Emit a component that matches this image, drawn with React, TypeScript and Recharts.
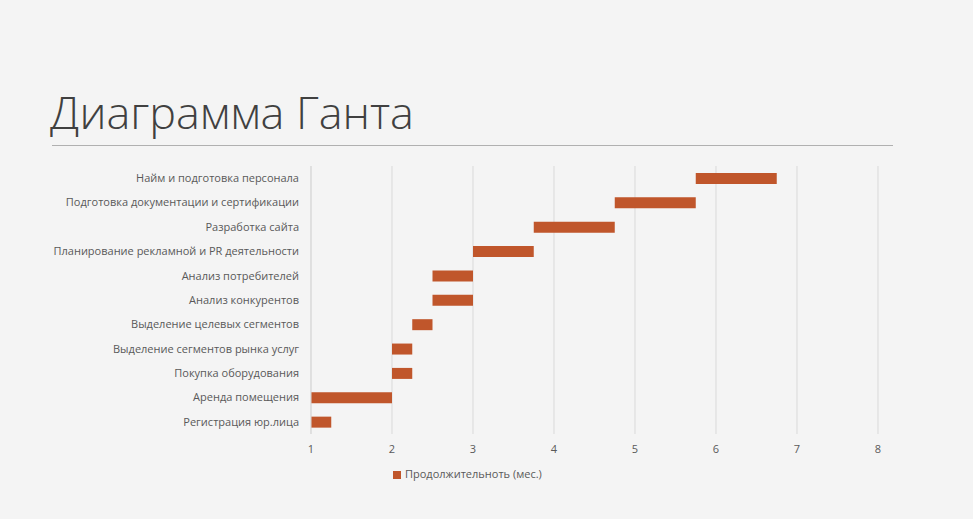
import React from "react";
import { BarChart, Bar, XAxis, YAxis, CartesianGrid, Legend } from "recharts";

const tasks = [
  "Найм и подготовка персонала",
  "Подготовка документации и сертификации",
  "Разработка сайта",
  "Планирование рекламной и PR деятельности",
  "Анализ потребителей",
  "Анализ конкурентов",
  "Выделение целевых сегментов",
  "Выделение сегментов рынка услуг",
  "Покупка оборудования",
  "Аренда помещения",
  "Регистрация юр.лица",
];
const starts = [5.75, 4.75, 3.75, 3, 2.5, 2.5, 2.25, 2, 2, 1, 1];
const durations = [1, 1, 1, 0.75, 0.5, 0.5, 0.25, 0.25, 0.25, 1, 0.25];
const xTicks = [1, 2, 3, 4, 5, 6, 7, 8];

const data = tasks.map((t, i) => ({ task: t, start: starts[i], dur: durations[i] }));

const FONT = "'Open Sans', 'Noto Sans', sans-serif";

export default function App() {
  return (
    <div
      style={{
        position: "absolute",
        left: 0,
        top: 0,
        width: 973,
        height: 519,
        background: "#f4f4f4",
        fontFamily: FONT,
        overflow: "hidden",
      }}
    >
      <div
        style={{
          position: "absolute",
          left: 50,
          top: 82,
          fontSize: 45,
          fontWeight: 300,
          color: "#404040",
          lineHeight: "60px",
          whiteSpace: "nowrap",
        }}
      >
        Диаграмма Ганта
      </div>
      <div
        style={{
          position: "absolute",
          left: 52,
          top: 145,
          width: 841,
          height: 1,
          background: "#b0b0b0",
        }}
      />
      <div style={{ position: "absolute", left: 0, top: 0 }}>
        <BarChart
          width={973}
          height={519}
          data={data}
          layout="vertical"
          margin={{ top: 166, right: 95, bottom: 40, left: 0 }}
          barSize={11}
        >
          <CartesianGrid horizontal={false} stroke="#d9d9d9" />
          <XAxis
            type="number"
            domain={[1, 8]}
            allowDataOverflow={true}
            ticks={xTicks}
            axisLine={false}
            tickLine={false}
            tick={{ fill: "#595959", fontSize: 11, fontFamily: FONT }}
            tickMargin={5}
          />
          <YAxis
            type="category"
            dataKey="task"
            width={311}
            axisLine={{ stroke: "#d9d9d9" }}
            tickLine={false}
            tickMargin={6}
            interval={0}
            tick={{ fill: "#595959", fontSize: 11, fontFamily: FONT }}
          />
          <Legend
            verticalAlign="bottom"
            align="left"
            iconType="square"
            iconSize={8}
            wrapperStyle={{
              fontSize: 11,
              color: "#595959",
              fontFamily: FONT,
              left: 393,
              top: 466,
              width: "auto",
            }}
            formatter={(v) => <span style={{ color: "#595959" }}>{v}</span>}
          />
          <Bar
            dataKey="start"
            stackId="a"
            fill="transparent"
            legendType="none"
            isAnimationActive={false}
          />
          <Bar
            dataKey="dur"
            stackId="a"
            name="Продолжительноть (мес.)"
            fill="#c0562b"
            isAnimationActive={false}
          />
        </BarChart>
      </div>
    </div>
  );
}
